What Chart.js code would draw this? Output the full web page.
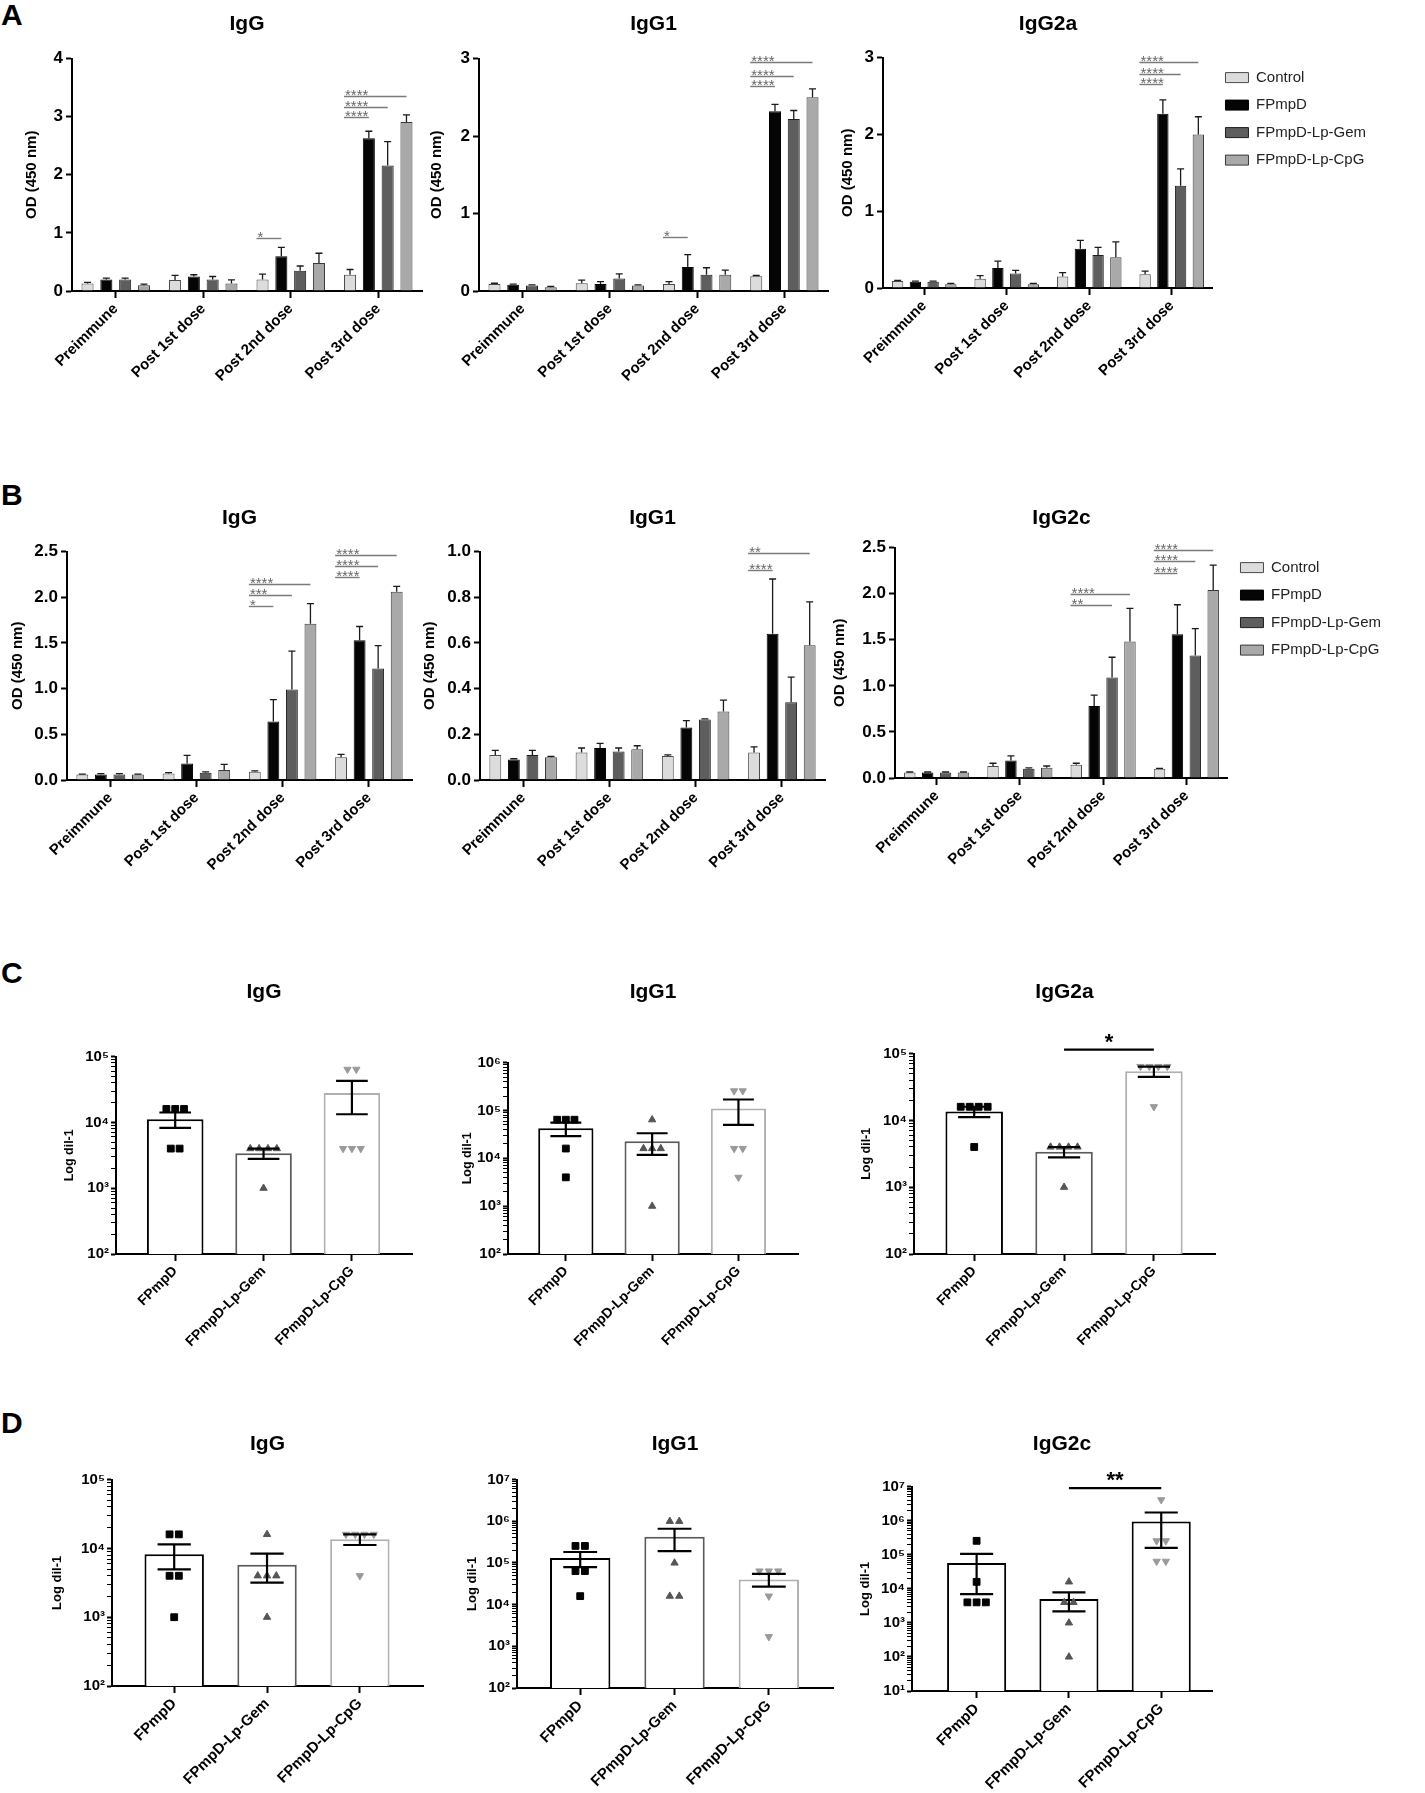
<!DOCTYPE html>
<html lang="en">
<head>
<meta charset="UTF-8">
<title>FPmpD antibody responses</title>
<script src="https://cdn.jsdelivr.net/npm/chart.js"></script>
<style>
  html, body { margin: 0; padding: 0; background: #fff; }
  body { width: 1425px; height: 1793px; position: relative; overflow: hidden; }
  .panel { position: absolute; left: 1px; font: bold 30px/30px 'Liberation Sans', Arial, sans-serif; color: #000; }
  canvas { position: absolute; }
</style>
</head>
<body>
<div class="panel" style="top:0px">A</div>
<div class="panel" style="top:480px">B</div>
<div class="panel" style="top:958px">C</div>
<div class="panel" style="top:1408px">D</div>

<script>
// ---------- shared labels ----------
const timepoints = ['Preimmune', 'Post 1st dose', 'Post 2nd dose', 'Post 3rd dose'];
const groups = ['Control', 'FPmpD', 'FPmpD-Lp-Gem', 'FPmpD-Lp-CpG'];
const vaccines = ['FPmpD', 'FPmpD-Lp-Gem', 'FPmpD-Lp-CpG'];

// ---------- panel A: OD (450 nm) ----------
// rows follow `groups`, columns follow `timepoints`
const aIgGMean = [
  [0.13, 0.19, 0.20, 0.28],
  [0.20, 0.25, 0.60, 2.63],
  [0.20, 0.20, 0.35, 2.16],
  [0.10, 0.13, 0.48, 2.91]
];
const aIgGSem = [
  [0.02, 0.08, 0.09, 0.09],
  [0.02, 0.03, 0.15, 0.12],
  [0.02, 0.05, 0.08, 0.41],
  [0.02, 0.06, 0.17, 0.12]
];
// [timepoint, group compared with Control, height, stars]
const aIgGSig = [[2, 1, 0.91, '*'], [3, 1, 2.99, '****'], [3, 2, 3.17, '****'], [3, 3, 3.36, '****']];

const aIgG1Mean = [
  [0.09, 0.10, 0.09, 0.19],
  [0.08, 0.09, 0.31, 2.32],
  [0.07, 0.16, 0.21, 2.22],
  [0.05, 0.07, 0.21, 2.50]
];
const aIgG1Sem = [
  [0.01, 0.04, 0.03, 0.01],
  [0.01, 0.03, 0.16, 0.09],
  [0.01, 0.06, 0.09, 0.11],
  [0.01, 0.01, 0.06, 0.11]
];
const aIgG1Sig = [[2, 1, 0.70, '*'], [3, 1, 2.64, '****'], [3, 2, 2.78, '****'], [3, 3, 2.96, '****']];

const aIgG2aMean = [
  [0.09, 0.12, 0.15, 0.18],
  [0.08, 0.26, 0.51, 2.27],
  [0.08, 0.19, 0.43, 1.33],
  [0.05, 0.05, 0.40, 2.00]
];
const aIgG2aSem = [
  [0.01, 0.04, 0.05, 0.04],
  [0.01, 0.09, 0.11, 0.18],
  [0.01, 0.04, 0.10, 0.22],
  [0.01, 0.01, 0.20, 0.23]
];
const aIgG2aSig = [[3, 1, 2.66, '****'], [3, 2, 2.79, '****'], [3, 3, 2.94, '****']];

// ---------- panel B: OD (450 nm) ----------
const bIgGMean = [
  [0.06, 0.07, 0.09, 0.25],
  [0.06, 0.18, 0.64, 1.53],
  [0.06, 0.08, 0.99, 1.22],
  [0.06, 0.11, 1.71, 2.06]
];
const bIgGSem = [
  [0.005, 0.01, 0.01, 0.03],
  [0.01, 0.09, 0.24, 0.15],
  [0.01, 0.01, 0.42, 0.25],
  [0.005, 0.06, 0.22, 0.06]
];
const bIgGSig = [[2, 1, 1.90, '*'], [2, 2, 2.02, '***'], [2, 3, 2.14, '****'],
                 [3, 1, 2.22, '****'], [3, 2, 2.34, '****'], [3, 3, 2.46, '****']];

const bIgG1Mean = [
  [0.11, 0.12, 0.105, 0.12],
  [0.09, 0.14, 0.23, 0.64],
  [0.11, 0.125, 0.265, 0.34],
  [0.10, 0.135, 0.30, 0.59]
];
const bIgG1Sem = [
  [0.02, 0.02, 0.005, 0.025],
  [0.003, 0.02, 0.03, 0.24],
  [0.02, 0.015, 0.003, 0.11],
  [0.003, 0.015, 0.05, 0.19]
];
const bIgG1Sig = [[3, 1, 0.92, '****'], [3, 3, 0.995, '**']];

const bIgG2cMean = [
  [0.06, 0.13, 0.145, 0.10],
  [0.06, 0.19, 0.78, 1.56],
  [0.06, 0.10, 1.09, 1.33],
  [0.06, 0.11, 1.48, 2.04]
];
const bIgG2cSem = [
  [0.005, 0.03, 0.015, 0.005],
  [0.005, 0.05, 0.12, 0.32],
  [0.005, 0.01, 0.22, 0.29],
  [0.005, 0.02, 0.36, 0.27]
];
const bIgG2cSig = [[2, 2, 1.88, '**'], [2, 3, 2.00, '****'],
                   [3, 1, 2.22, '****'], [3, 2, 2.35, '****'], [3, 3, 2.47, '****']];

// ---------- panel C: titres (dil-1), order follows `vaccines` ----------
const cIgGMean = [11200, 3400, 28000];
const cIgGLow = [8260, 2800, 13300];
const cIgGHigh = [14140, 4000, 42700];
const cIgGPoints = [[16000, 16000, 16000, 4000, 4000], [4000, 4000, 4000, 4000, 1000], [64000, 64000, 4000, 4000, 4000]];

const cIgG1Mean = [42400, 22600, 109600];
const cIgG1Low = [29000, 11800, 49800];
const cIgG1High = [55800, 33400, 169400];
const cIgG1Points = [[64000, 64000, 64000, 16000, 4000], [64000, 16000, 16000, 16000, 1000], [256000, 256000, 16000, 16000, 4000]];

const cIgG2aMean = [13600, 3400, 54400];
const cIgG2aLow = [11200, 2800, 44800];
const cIgG2aHigh = [16000, 4000, 64000];
const cIgG2aPoints = [[16000, 16000, 16000, 16000, 4000], [4000, 4000, 4000, 4000, 1000], [64000, 64000, 64000, 64000, 16000]];
const cIgG2aSig = [[1, 2, 115000, '*']];

// ---------- panel D: titres (dil-1) ----------
const dIgGMean = [8200, 5800, 13600];
const dIgGLow = [4970, 3185, 11200];
const dIgGHigh = [11430, 8415, 16000];
const dIgGPoints = [[16000, 16000, 4000, 4000, 1000], [16000, 4000, 4000, 4000, 1000], [16000, 16000, 16000, 16000, 4000]];

const dIgG1Mean = [131200, 426400, 40000];
const dIgG1Low = [79500, 192000, 27000];
const dIgG1High = [183000, 661000, 55000];
const dIgG1Points = [[256000, 256000, 64000, 64000, 16000], [1000000, 1000000, 100000, 16000, 16000], [64000, 64000, 64000, 16000, 1700]];

const dIgG2cMean = [56800, 5020, 947200];
const dIgG2cLow = [6940, 2165, 158850];
const dIgG2cHigh = [106660, 7875, 1735550];
const dIgG2cPoints = [[256000, 16000, 4000, 4000, 4000], [16000, 4000, 4000, 1000, 100], [4096000, 256000, 256000, 64000, 64000]];
const dIgG2cSig = [[1, 2, 9000000, '**']];

// ---------- drawing ----------
const FONT = "'Liberation Sans', Arial, sans-serif";
Chart.defaults.font.family = FONT;
Chart.defaults.font.size = 15;
Chart.defaults.color = '#000';

const fills = ['#dcdcdc', '#050505', '#5e5e5e', '#a9a9a9'];
const edges = ['#4a4a4a', '#000000', '#1e1e1e', '#3a3a3a'];
const sup = ['⁰', '¹', '²', '³', '⁴', '⁵', '⁶', '⁷'];
const axisLine = {display: true, color: '#000', width: 2};

function decade(v) {
  const e = Math.log10(v);
  return Math.abs(e - Math.round(e)) < 1e-6 ? Math.round(e) : null;
}

function logTicks(e0, e1) {
  const t = [];
  for (let e = e0; e < e1; e++) {
    for (let m = 1; m < 10; m++) t.push({value: m * Math.pow(10, e)});
  }
  t.push({value: Math.pow(10, e1)});
  return t;
}

// equal values sit side by side, like a GraphPad scatter
function spread(vals, x) {
  const counts = {};
  vals.forEach(v => { counts[v] = (counts[v] || 0) + 1; });
  const out = [];
  Object.keys(counts).forEach(k => {
    const n = counts[k];
    for (let i = 0; i < n; i++) out.push({x: x + (i - (n - 1) / 2) * 0.1, y: +k});
  });
  return out;
}

function odOverlay(sem, sig) {
  return {
    id: 'odOverlay',
    afterDatasetsDraw(chart) {
      const ctx = chart.ctx, y = chart.scales.y;
      ctx.save();
      ctx.strokeStyle = '#1a1a1a';
      ctx.lineWidth = 1.3;
      chart.data.datasets.forEach((ds, i) => {
        chart.getDatasetMeta(i).data.forEach((bar, j) => {
          const top = y.getPixelForValue(ds.data[j] + sem[i][j]);
          ctx.beginPath();
          ctx.moveTo(bar.x, bar.y);
          ctx.lineTo(bar.x, top);
          ctx.moveTo(bar.x - 3.5, top);
          ctx.lineTo(bar.x + 3.5, top);
          ctx.stroke();
        });
      });
      ctx.strokeStyle = '#7a7a7a';
      ctx.fillStyle = '#666';
      ctx.lineWidth = 1.4;
      ctx.font = '15px ' + FONT;
      ctx.textAlign = 'left';
      ctx.textBaseline = 'alphabetic';
      sig.forEach(([t, g, v, label]) => {
        const ref = chart.getDatasetMeta(0).data[t];
        const x1 = ref.x - ref.width / 2;
        const x2 = chart.getDatasetMeta(g).data[t].x;
        const py = Math.round(y.getPixelForValue(v)) + 0.5;
        ctx.beginPath();
        ctx.moveTo(x1, py);
        ctx.lineTo(x2, py);
        ctx.stroke();
        ctx.fillText(label, x1 + 1, py + 3);
      });
      ctx.restore();
    }
  };
}

function titerOverlay(low, high, sig) {
  return {
    id: 'titerOverlay',
    afterDatasetsDraw(chart) {
      const ctx = chart.ctx, y = chart.scales.y;
      const bars = chart.getDatasetMeta(0).data;
      ctx.save();
      ctx.strokeStyle = '#000';
      ctx.lineWidth = 2.2;
      bars.forEach((bar, j) => {
        const hi = y.getPixelForValue(high[j]), lo = y.getPixelForValue(low[j]);
        const cw = bar.width * 0.28;
        ctx.beginPath();
        ctx.moveTo(bar.x, hi); ctx.lineTo(bar.x, lo);
        ctx.moveTo(bar.x - cw, hi); ctx.lineTo(bar.x + cw, hi);
        ctx.moveTo(bar.x - cw, lo); ctx.lineTo(bar.x + cw, lo);
        ctx.stroke();
      });
      ctx.fillStyle = '#000';
      ctx.font = 'bold 22px ' + FONT;
      ctx.textAlign = 'center';
      ctx.textBaseline = 'alphabetic';
      sig.forEach(([a, b, v, label]) => {
        const py = y.getPixelForValue(v);
        ctx.beginPath();
        ctx.moveTo(bars[a].x, py);
        ctx.lineTo(bars[b].x, py);
        ctx.stroke();
        ctx.fillText(label, (bars[a].x + bars[b].x) / 2, py - 1);
      });
      ctx.restore();
    }
  };
}

function titleOpts(s) {
  return {
    display: true, text: s.title, fullSize: false,
    font: {size: 21, weight: 'bold'},
    padding: {top: 0, bottom: s.box.T - s.ty - 12.6}
  };
}

function odConfig(s) {
  return {
    type: 'bar',
    data: {
      labels: timepoints,
      datasets: groups.map((g, i) => ({
        label: g,
        data: s.mean[i],
        backgroundColor: fills[i],
        borderColor: edges[i],
        borderWidth: 1,
        categoryPercentage: 0.86,
        barPercentage: 0.64
      }))
    },
    options: {
      responsive: false, animation: false, events: [],
      layout: {padding: {left: 0, right: s.legend ? 0 : 8, top: 0, bottom: 0}},
      plugins: {
        title: titleOpts(s),
        tooltip: {enabled: false},
        legend: s.legend ? {
          display: true, position: 'right', align: 'start', fullSize: false, maxWidth: 220,
          labels: {boxWidth: 23, boxHeight: 10, padding: 12.5, color: '#222', font: {size: 15}}
        } : {display: false}
      },
      scales: {
        x: {
          type: 'category', offset: true,
          grid: {drawOnChartArea: false, offset: false, tickLength: 7, tickWidth: 2, tickColor: '#000'},
          border: axisLine,
          ticks: {autoSkip: false, maxRotation: 45, minRotation: 45, padding: 2, font: {size: 15, weight: 'bold'}},
          afterFit: sc => { sc.height = s.xh; }
        },
        y: {
          min: 0, max: s.max,
          grid: {drawOnChartArea: false, tickLength: 6, tickWidth: 2, tickColor: '#000'},
          border: axisLine,
          ticks: {stepSize: s.step, padding: 3, font: {size: 17, weight: 'bold'}, callback: v => v.toFixed(s.dec)},
          title: {display: true, text: 'OD (450 nm)', font: {size: 15, weight: 'bold'}, padding: {top: 1, bottom: 0}},
          afterFit: sc => { sc.width = s.yw; }
        }
      }
    },
    plugins: [odOverlay(s.sem, s.sig)]
  };
}

function titerConfig(s) {
  const markers = ['rect', 'triangle', 'triangle'];
  const dots = ['#000', '#555', '#9a9a9a'];
  const ytLine = s.ytSize * 1.2;
  return {
    type: 'bar',
    data: {
      datasets: [
        {
          type: 'bar', order: 2,
          data: s.mean.map((v, j) => ({x: j + 1, y: v})),
          backgroundColor: '#fff',
          borderColor: s.edges,
          borderWidth: 2,
          categoryPercentage: 0.8,
          barPercentage: 0.8
        },
        ...s.points.map((vals, j) => ({
          type: 'scatter', order: 1,
          data: spread(vals, j + 1),
          pointStyle: markers[j],
          pointRotation: j === 2 ? 180 : 0,
          pointRadius: j === 0 ? 4.8 : 4.2,
          pointBackgroundColor: dots[j],
          pointBorderColor: dots[j],
          pointBorderWidth: 1
        }))
      ]
    },
    options: {
      responsive: false, animation: false, events: [],
      layout: {padding: {left: 0, right: 8, top: 0, bottom: 0}},
      plugins: {title: titleOpts(s), tooltip: {enabled: false}, legend: {display: false}},
      scales: {
        x: {
          type: 'linear', min: s.xMin, max: s.xMax, offset: false,
          afterBuildTicks: sc => { sc.ticks = vaccines.map((_, j) => ({value: j + 1})); },
          grid: {drawOnChartArea: false, offset: false, tickLength: 7, tickWidth: 2, tickColor: '#000'},
          border: axisLine,
          ticks: {autoSkip: false, maxRotation: 45, minRotation: 45, padding: 2,
                  font: {size: s.xSize, weight: 'bold'}, callback: v => vaccines[Math.round(v) - 1]},
          afterFit: sc => { sc.height = s.xh; }
        },
        y: {
          type: 'logarithmic', min: Math.pow(10, s.e0), max: Math.pow(10, s.e1),
          afterBuildTicks: sc => { sc.ticks = logTicks(s.e0, s.e1); },
          grid: {drawOnChartArea: false, tickLength: 5, tickColor: '#000',
                 tickWidth: c => (c.tick && decade(c.tick.value) !== null) ? 2 : 1},
          border: axisLine,
          ticks: {autoSkip: false, padding: 2, font: {size: 15, weight: 'bold'},
                  callback: v => { const e = decade(v); return e === null ? '' : '10' + sup[e]; }},
          title: {display: true, text: 'Log dil-1', font: {size: s.ytSize, weight: 'bold'},
                  padding: {top: 10 - ytLine / 2, bottom: 0}},
          afterFit: sc => { sc.width = s.yw; }
        }
      }
    },
    plugins: [titerOverlay(s.low, s.high, s.sig || [])]
  };
}

// build, then correct the canvas once so the plot area lands on its box
function mount(s, build) {
  const b = s.box;
  s.yw = b.L - s.ytx + 10;
  const canvas = document.createElement('canvas');
  document.body.appendChild(canvas);
  const w0 = s.yw + (b.R - b.L) + (s.legend ? 175 : 8);
  const h0 = (b.T - s.ty + 12.6) + (b.B - b.T) + s.xh;
  canvas.width = Math.round(w0);
  canvas.height = Math.round(h0);
  let chart = new Chart(canvas, build(s));
  let a = chart.chartArea;
  const dw = (b.R - b.L) - (a.right - a.left);
  const dh = (b.B - b.T) - (a.bottom - a.top);
  if (Math.abs(dw) > 0.5 || Math.abs(dh) > 0.5) {
    chart.destroy();
    canvas.width = Math.round(w0 + dw);
    canvas.height = Math.round(h0 + dh);
    chart = new Chart(canvas, build(s));
    a = chart.chartArea;
  }
  canvas.style.left = (b.L - a.left) + 'px';
  canvas.style.top = (b.T - a.top) + 'px';
}

const odCharts = [
  {title: 'IgG', mean: aIgGMean, sem: aIgGSem, sig: aIgGSig, max: 4, step: 1, dec: 0,
   box: {L: 72, R: 422, T: 59, B: 291}, ty: 25, ytx: 32, xh: 110},
  {title: 'IgG1', mean: aIgG1Mean, sem: aIgG1Sem, sig: aIgG1Sig, max: 3, step: 1, dec: 0,
   box: {L: 479, R: 828, T: 59, B: 291}, ty: 25, ytx: 437, xh: 110},
  {title: 'IgG2a', mean: aIgG2aMean, sem: aIgG2aSem, sig: aIgG2aSig, max: 3, step: 1, dec: 0,
   box: {L: 883, R: 1213, T: 58, B: 289}, ty: 25, ytx: 848, xh: 110, legend: true},
  {title: 'IgG', mean: bIgGMean, sem: bIgGSem, sig: bIgGSig, max: 2.5, step: 0.5, dec: 1,
   box: {L: 67, R: 412, T: 552, B: 780}, ty: 519, ytx: 18, xh: 110},
  {title: 'IgG1', mean: bIgG1Mean, sem: bIgG1Sem, sig: bIgG1Sig, max: 1, step: 0.2, dec: 1,
   box: {L: 480, R: 825, T: 552, B: 780}, ty: 519, ytx: 430, xh: 110},
  {title: 'IgG2c', mean: bIgG2cMean, sem: bIgG2cSem, sig: bIgG2cSig, max: 2.5, step: 0.5, dec: 1,
   box: {L: 895, R: 1228, T: 548, B: 779}, ty: 519, ytx: 840, xh: 110, legend: true}
];

const greyEdges = ['#000', '#5a5a5a', '#b0b0b0'];
const titerCharts = [
  {title: 'IgG', mean: cIgGMean, low: cIgGLow, high: cIgGHigh, points: cIgGPoints, e0: 2, e1: 5,
   box: {L: 116, R: 412, T: 1057, B: 1254}, ty: 993, ytx: 70, xh: 125, xMin: 0.33, xMax: 3.68,
   edges: greyEdges, xSize: 14, ytSize: 12.5},
  {title: 'IgG1', mean: cIgG1Mean, low: cIgG1Low, high: cIgG1High, points: cIgG1Points, e0: 2, e1: 6,
   box: {L: 508, R: 798, T: 1063, B: 1254}, ty: 993, ytx: 468, xh: 125, xMin: 0.33, xMax: 3.69,
   edges: greyEdges, xSize: 14, ytSize: 12.5},
  {title: 'IgG2a', mean: cIgG2aMean, low: cIgG2aLow, high: cIgG2aHigh, points: cIgG2aPoints, sig: cIgG2aSig, e0: 2, e1: 5,
   box: {L: 914, R: 1215, T: 1054, B: 1254}, ty: 993, ytx: 867, xh: 125, xMin: 0.33, xMax: 3.68,
   edges: greyEdges, xSize: 14, ytSize: 12.5},
  {title: 'IgG', mean: dIgGMean, low: dIgGLow, high: dIgGHigh, points: dIgGPoints, e0: 2, e1: 5,
   box: {L: 112, R: 423, T: 1480, B: 1686}, ty: 1445, ytx: 57, xh: 100, xMin: 0.33, xMax: 3.68,
   edges: greyEdges, xSize: 15, ytSize: 13},
  {title: 'IgG1', mean: dIgG1Mean, low: dIgG1Low, high: dIgG1High, points: dIgG1Points, e0: 2, e1: 7,
   box: {L: 517, R: 833, T: 1480, B: 1688}, ty: 1445, ytx: 472, xh: 100, xMin: 0.33, xMax: 3.68,
   edges: greyEdges, xSize: 15, ytSize: 13},
  {title: 'IgG2c', mean: dIgG2cMean, low: dIgG2cLow, high: dIgG2cHigh, points: dIgG2cPoints, sig: dIgG2cSig, e0: 1, e1: 7,
   box: {L: 912, R: 1212, T: 1487, B: 1691}, ty: 1445, ytx: 865, xh: 100, xMin: 0.3, xMax: 3.55,
   edges: ['#000', '#000', '#000'], xSize: 15, ytSize: 13}
];

odCharts.forEach(s => mount(s, odConfig));
titerCharts.forEach(s => mount(s, titerConfig));
</script>
</body>
</html>
